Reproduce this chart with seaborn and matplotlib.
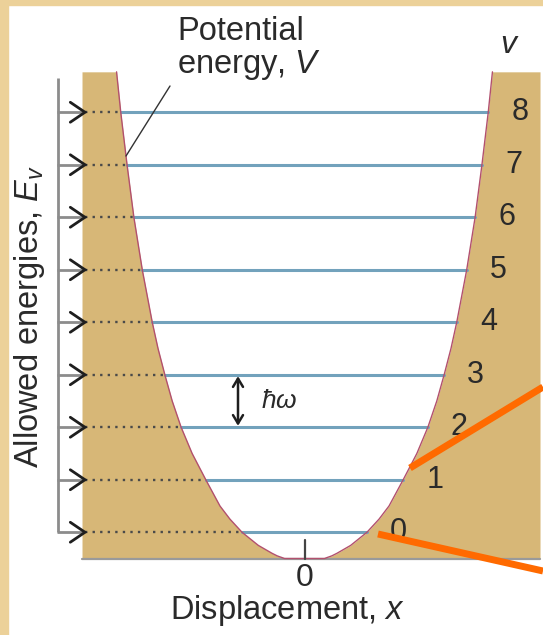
import numpy as np
import pandas as pd
import matplotlib
matplotlib.use("Agg")
import matplotlib.pyplot as plt
from matplotlib.lines import Line2D
from matplotlib.patches import Rectangle
import seaborn as sns

# Vibrational quantum numbers and allowed energies (units of hbar*omega above the well floor)
levels = [0, 1, 2, 3, 4, 5, 6, 7, 8]
level_energy = [0.5, 1.5, 2.5, 3.5, 4.5, 5.5, 6.5, 7.5, 8.5]

# Potential-energy wall: energy vs. half-width of the well (same units as energy)
wall_energy = [0.0, 0.05, 0.1, 0.25, 0.5, 0.75, 1.0, 1.5, 2.0, 2.5, 3.0, 3.5, 4.0,
               4.5, 5.5, 6.5, 7.5, 8.5, 9.27]
wall_halfwidth = [0.38, 0.52, 0.62, 0.88, 1.19, 1.42, 1.61, 1.88, 2.14, 2.35, 2.52, 2.66,
                  2.79, 2.90, 3.09, 3.25, 3.38, 3.50, 3.58]

# Shaded box and left-hand energy axis
box_left, box_right = -4.238, 4.486
axis_x, arrow_tip = -4.695, -4.181

TAN = "#D7B777"
BORDER = "#ECD199"
BLUE = "#72A2BC"
CURVE = "#B2506E"
ORANGE = "#FF6A00"
INK = "#2a2a2a"

sns.set_theme(style="white")
plt.rcParams["font.family"] = ["Liberation Sans", "DejaVu Sans"]
plt.rcParams["mathtext.fontset"] = "custom"
plt.rcParams["mathtext.rm"] = "Liberation Sans"
plt.rcParams["mathtext.it"] = "Liberation Sans:italic"

W, H = 543, 635
fig = plt.figure(figsize=(W / 100, H / 100), dpi=100, facecolor="white")
ax = fig.add_axes([0, 0, 1, 1])
scale = 52.5
ax.set_xlim(-304.5 / scale, (W - 304.5) / scale)
ax.set_ylim((558.5 - H) / scale, 558.5 / scale)
ax.axis("off")


def px(x):
    return (x - 304.5) / scale


def py(y):
    return (558.5 - y) / scale


E = np.array(wall_energy)
h = np.array(wall_halfwidth)

# tan region outside the well
ax.fill_betweenx(E, box_left, -h, color=TAN, lw=0, zorder=1)
ax.fill_betweenx(E, h, box_right, color=TAN, lw=0, zorder=1)

# potential curve
curve = pd.DataFrame({"x": np.concatenate([-h[::-1], h]),
                      "V": np.concatenate([E[::-1], E])})
sns.lineplot(data=curve, x="x", y="V", sort=False, estimator=None,
             color=CURVE, lw=1.0, ax=ax, zorder=4)

# energy levels spanning the well
lvl_h = np.interp(level_energy, wall_energy, wall_halfwidth)
rows = []
for v, e, hw in zip(levels, level_energy, lvl_h):
    rows.append({"v": v, "x": -hw, "E": e})
    rows.append({"v": v, "x": hw, "E": e})
lv = pd.DataFrame(rows)
sns.lineplot(data=lv, x="x", y="E", units="v", estimator=None, sort=False,
             color=BLUE, lw=2.2, ax=ax, zorder=3)

# dotted guides from the energy axis to the wall
ax.hlines(level_energy, arrow_tip, -lvl_h, colors="#4a4a4a",
          linestyles=(0, (1.0, 2.2)), lw=1.7, zorder=2)

# energy axis with arrows
ax.plot([axis_x, axis_x], [level_energy[0], py(78)], color="#8c8c8c", lw=2.0,
        solid_capstyle="butt", zorder=2)
ax.hlines(level_energy, axis_x - 0.02, arrow_tip - 0.05, colors="#8c8c8c", lw=2.0, zorder=2)
for e in level_energy:
    ax.plot([arrow_tip - 0.28, arrow_tip, arrow_tip - 0.28], [e + 0.19, e, e - 0.19],
            color="#1e1e1e", lw=2.0, solid_joinstyle="miter", zorder=5)

# baseline and zero tick
ax.plot([box_left, box_right], [0, 0], color="#9a9a9a", lw=1.6, zorder=2)
ax.plot([0, 0], [0, py(540)], color="#444444", lw=1.6, zorder=5)

# quantum-number labels beside the wall
for v, e, hw in zip(levels, level_energy, lvl_h):
    ax.text(hw + 0.6, e, str(v), ha="center", va="center", fontsize=22,
            color=INK, zorder=6)
ax.text(px(510), py(45), "$v$", ha="center", va="center", fontsize=23, color=INK)

# spacing marker
ax.annotate("", xy=(px(238), level_energy[3]), xytext=(px(238), level_energy[2]),
            arrowprops=dict(arrowstyle="<->,head_length=0.5,head_width=0.3",
                            color="#1e1e1e", lw=1.8, shrinkA=1, shrinkB=1), zorder=6)
ax.text(px(261), (level_energy[2] + level_energy[3]) / 2, r"$\hbar\omega$",
        ha="left", va="center", fontsize=19, color=INK)

# annotations and axis titles
ax.text(px(177), py(49), "Potential\nenergy, $V$", ha="left", va="center",
        fontsize=23.5, color=INK, linespacing=1.0)
ax.plot([px(170), px(126)], [py(86), py(156)], color="#333333", lw=1.0, zorder=5)
ax.text(px(305), py(578), "0", ha="center", va="center", fontsize=23, color=INK)
ax.text(px(288), py(611), "Displacement, $x$", ha="center", va="center",
        fontsize=23.5, color=INK)
ax.text(px(30), py(317), "Allowed energies, $E_v$", ha="center", va="center",
        rotation=90, fontsize=23.5, color=INK)

# frame strips of the slide background
fig.patches.append(Rectangle((0, 0), 8 / W, 1, transform=fig.transFigure,
                             color=BORDER, zorder=0))
fig.patches.append(Rectangle((0, 1 - 5 / H), 1, 5 / H, transform=fig.transFigure,
                             color=BORDER, zorder=0))

# orange pointer lines
for (x0, y0), (x1, y1) in [((410, 468), (543, 387)), ((378, 534), (543, 571))]:
    fig.add_artist(Line2D([x0 / W, x1 / W], [1 - y0 / H, 1 - y1 / H],
                          transform=fig.transFigure, color=ORANGE, lw=5.0,
                          solid_capstyle="butt", zorder=10))

fig.savefig("out.png", dpi=100, facecolor="white")
